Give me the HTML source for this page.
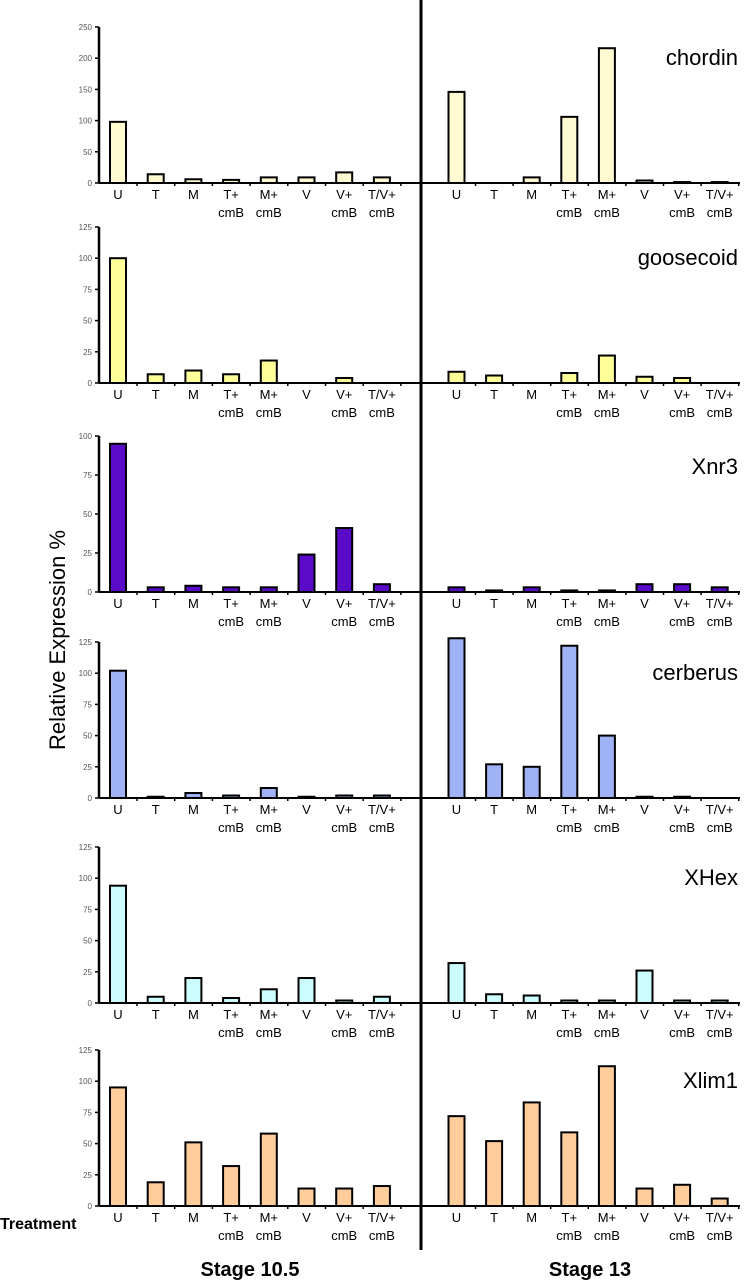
<!DOCTYPE html>
<html><head><meta charset="utf-8"><style>
html,body{margin:0;padding:0;background:#fff;}
svg{display:block;font-family:"Liberation Sans",Arial,sans-serif;}
</style></head><body>
<svg id="chart" width="750" height="1280" viewBox="0 0 750 1280">
<line x1="421" y1="0" x2="421" y2="1250" stroke="#000" stroke-width="3"/>
<text x="65" y="640" transform="rotate(-90 65 640)" text-anchor="middle" font-size="22" fill="#000">Relative Expression %</text>
<text x="0" y="1229" font-size="16" font-weight="bold" fill="#000">Treatment</text>
<text x="250" y="1276" text-anchor="middle" font-size="20" font-weight="bold" fill="#000">Stage 10.5</text>
<text x="590" y="1276" text-anchor="middle" font-size="20" font-weight="bold" fill="#000">Stage 13</text>
</svg>
<script>
const categories = ["U","T","M","T+|cmB","M+|cmB","V","V+|cmB","T/V+|cmB"];
const genes = ["chordin","goosecoid","Xnr3","cerberus","XHex","Xlim1"];
const colors = ["#fffad2","#ffff99","#5a0bc8","#9fb2f6","#ccfcfc","#ffcc9c"];
const axisMax = [250,125,100,125,125,125];
const tickStep = [50,25,25,25,25,25];
const stage105 = [
  [98,14,6,5,9,9,17,9],
  [100,7,10,7,18,0,4,0],
  [95,3,4,3,3,24,41,5],
  [102,1,4,2,8,1,2,2],
  [94,5,20,4,11,20,2,5],
  [95,19,51,32,58,14,14,16]
];
const stage13 = [
  [146,0,9,106,216,4,1.5,1.5],
  [9,6,0,8,22,5,4,0],
  [3,1,3,1,1,5,5,3],
  [128,27,25,122,50,1,1,0],
  [32,7,6,2,2,26,2,2],
  [72,52,83,59,112,14,17,6]
];
// layout
const baselines = [183,383,592,798,1003,1206];
const plotH = 156;
const svg = document.getElementById('chart');
const NS = "http://www.w3.org/2000/svg";
function mk(tag, attrs){const e=document.createElementNS(NS,tag);for(const k in attrs)e.setAttribute(k,attrs[k]);svg.appendChild(e);return e;}
function yScale(p,v){return baselines[p]-v/axisMax[p]*plotH;}
function xLeft(i){return 118+37.7*i;}
function xRight(i){return 456.5+37.6*i;}
for(let p=0;p<genes.length;p++){
  const b=baselines[p];
  const ax=mk('line',{x1:99,y1:yScale(p,axisMax[p]),x2:99,y2:b,stroke:'#000','stroke-width':2.5});
  
  
  for(let v=0;v<=axisMax[p];v+=tickStep[p]){
    const y=yScale(p,v);
    const t=mk('line',{x1:95,y1:y,x2:99,y2:y,stroke:'#000','stroke-width':1.5});
    
    
    const tl=mk('text',{x:92,y:y+3,'text-anchor':'end','font-size':8,fill:'#555'});
    tl.textContent=v;
    
    
  }
  const bl=mk('line',{x1:99,y1:b,x2:420,y2:b,stroke:'#000','stroke-width':2});
  
  
  const br=mk('line',{x1:400,y1:b,x2:740,y2:b,stroke:'#000','stroke-width':2});
  
  
  const gl=mk('text',{x:738,y:yScale(p,axisMax[p])+38,'text-anchor':'end','font-size':22,fill:'#000'});
  gl.textContent=genes[p];
  
  
  const sets=[[stage105,xLeft],[stage13,xRight]];
  for(const [data,xf] of sets){
    for(let i=0;i<categories.length;i++){
      const cx=xf(i);
      const tk=mk('line',{x1:cx+19,y1:b,x2:cx+19,y2:b+3,stroke:'#000','stroke-width':1.5});
      
      
      const v=data[p][i];
      if(v>0){
        const y=yScale(p,v);
        const r=mk('rect',{x:cx-8,y:y,width:16,height:b-y,fill:colors[p],stroke:'#000','stroke-width':2});
        
        
      }
      const parts=categories[i].split('|');
      parts.forEach((s,k)=>{
        const t=mk('text',{x:cx,y:b+16+k*18,'text-anchor':'middle','font-size':13,fill:'#000'});
        t.textContent=s;
        
        
      });
    }
  }
}
</script>
</body></html>
